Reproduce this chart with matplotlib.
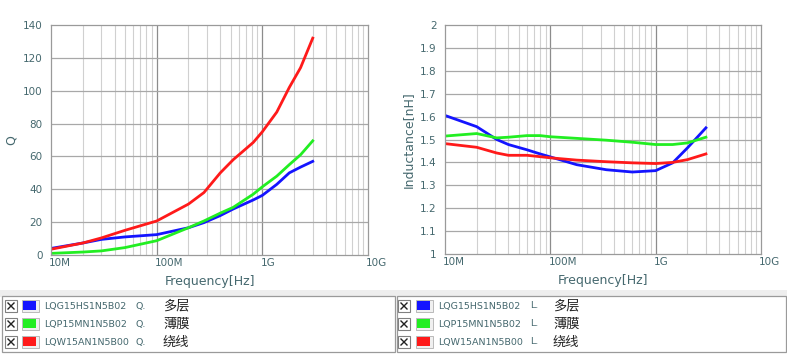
import numpy as np
import matplotlib
matplotlib.use('Agg')
import matplotlib.pyplot as plt
import matplotlib.transforms as mtrans
from matplotlib.patches import Rectangle
from matplotlib.lines import Line2D

plt.rcParams['font.family'] = ['DejaVu Sans', 'Noto Sans CJK SC']

# frequencies in Hz
freq_q = [1e7, 2e7, 3e7, 5e7, 1e8, 2e8, 2.8e8, 4e8, 5.3e8, 8.2e8, 1e9, 1.37e9, 1.8e9, 2.3e9, 3e9]
q_multi = [4.0, 7.3, 9.5, 11.0, 12.4, 16.6, 19.7, 24.0, 28.0, 33.5, 36.3, 43.0, 50.0, 53.5, 57.0]
q_film = [1.0, 1.8, 2.5, 4.5, 8.7, 16.6, 20.7, 25.5, 29.0, 37.0, 41.5, 48.0, 55.0, 61.0, 69.5]
q_wire = [3.5, 7.3, 10.4, 15.0, 20.7, 31.0, 38.0, 50.0, 58.0, 68.5, 75.0, 87.0, 102.0, 114.0, 132.0]

freq_l = [1e7, 2e7, 3.1e7, 4e7, 6e7, 8e7, 1e8, 1.78e8, 3.4e8, 6e8, 1e9, 1.45e9, 2e9, 3e9]
l_multi = [1.605, 1.556, 1.50, 1.478, 1.455, 1.437, 1.424, 1.39, 1.368, 1.358, 1.364, 1.398, 1.463, 1.551]
l_film = [1.515, 1.526, 1.507, 1.51, 1.517, 1.517, 1.512, 1.505, 1.497, 1.488, 1.478, 1.478, 1.485, 1.51]
l_wire = [1.482, 1.466, 1.441, 1.431, 1.431, 1.425, 1.42, 1.41, 1.403, 1.398, 1.395, 1.40, 1.412, 1.437]

parts = ['LQG15HS1N5B02', 'LQP15MN1N5B02', 'LQW15AN1N5B00']
kinds = ['多层', '薄膜', '绕线']
colors = ['#1414ff', '#22ee22', '#ff1a1a']

W, H = 787, 355
txt_col = '#45686e'


def fx(x):
    return x / W


def fy(y):
    return 1 - y / H


def style_axes(ax, ymin, ymax, ystep, ylabel, yfmt):
    ax.set_xscale('log')
    ax.set_xlim(1e7, 1e10)
    ax.set_ylim(ymin, ymax)
    for d in [1e7, 1e8, 1e9]:
        for m in range(2, 10):
            ax.axvline(d * m, color='#d0d0d0', lw=0.8, zorder=0)
    for d in [1e8, 1e9]:
        ax.axvline(d, color='#8c8c8c', lw=0.9, zorder=0)
    yt = np.arange(ymin, ymax + ystep / 2, ystep)
    for v in yt[1:-1]:
        ax.axhline(v, color='#a8a8a8', lw=0.9, zorder=0)
    ax.set_yticks(yt)
    ax.set_yticklabels([yfmt(v) for v in yt])
    ax.set_xticks([1e7, 1e8, 1e9, 1e10])
    ax.set_xticklabels(['10M', '100M', '1G', '10G'], ha='left')
    ax.xaxis.set_minor_locator(matplotlib.ticker.NullLocator())
    ax.tick_params(length=0, labelsize=7.5, colors=txt_col)
    ax.tick_params(axis='x', pad=2)
    ax.tick_params(axis='y', pad=6)
    shift = mtrans.ScaledTranslation(-2 / 100, 0, fig.dpi_scale_trans)
    for lab in ax.get_xticklabels():
        lab.set_transform(lab.get_transform() + shift)
    ax.set_xlabel('Frequency[Hz]', fontsize=9, color=txt_col, labelpad=5)
    ax.set_ylabel(ylabel, fontsize=9, color=txt_col, labelpad=4)
    for s in ax.spines.values():
        s.set_color('#9a9a9a')
        s.set_linewidth(0.9)


fig = plt.figure(figsize=(W / 100, H / 100), dpi=100)

ax1 = fig.add_axes([fx(51), fy(255), fx(368) - fx(51), fy(25) - fy(255)])
style_axes(ax1, 0, 140, 20, 'Q', lambda v: '%d' % v)
for ys, c in zip([q_multi, q_film, q_wire], colors):
    ax1.plot(freq_q, ys, color=c, lw=2)

ax2 = fig.add_axes([fx(445), fy(254), fx(761) - fx(445), fy(25) - fy(254)])
style_axes(ax2, 1.0, 2.0, 0.1, 'Inductance[nH]',
           lambda v: '%d' % round(v) if abs(v - round(v)) < 1e-6 else '%.1f' % v)
for ys, c in zip([l_multi, l_film, l_wire], colors):
    ax2.plot(freq_l, ys, color=c, lw=2)

# legend panel
fig.add_artist(Rectangle((0, fy(297)), 1, fy(290) - fy(297), transform=fig.transFigure,
                         facecolor='#eeeeee', edgecolor='none'))
for x0, x1 in [(2, 395), (397, 786)]:
    fig.add_artist(Rectangle((fx(x0), fy(352)), fx(x1) - fx(x0), fy(296) - fy(352),
                             transform=fig.transFigure, facecolor='white',
                             edgecolor='#9a9a9a', lw=0.9))

rows = [306, 324, 342]
for cb, sw, tx, suffix_x, cn_x, suffix in [(5, 22, 44, 135, 163, 'Q.'),
                                           (398, 416, 438, 530, 553, 'L.')]:
    for i, y in enumerate(rows):
        # check box with a cross
        fig.add_artist(Rectangle((fx(cb), fy(y + 6)), fx(12), 12 / H, transform=fig.transFigure,
                                 facecolor='white', edgecolor='#808080', lw=0.8))
        fig.add_artist(Line2D([fx(cb + 3), fx(cb + 9)], [fy(y + 3), fy(y - 3)],
                              transform=fig.transFigure, color='#222222', lw=1))
        fig.add_artist(Line2D([fx(cb + 3), fx(cb + 9)], [fy(y - 3), fy(y + 3)],
                              transform=fig.transFigure, color='#222222', lw=1))
        # colour swatch
        fig.add_artist(Rectangle((fx(sw), fy(y + 6)), fx(17), 12 / H, transform=fig.transFigure,
                                 facecolor='#f0f0f0', edgecolor='#b0b0b0', lw=0.6))
        fig.add_artist(Rectangle((fx(sw + 1), fy(y + 4)), fx(13), 9 / H, transform=fig.transFigure,
                                 facecolor=colors[i], edgecolor='none'))
        fig.text(fx(tx), fy(y), parts[i], fontsize=6.8, color=txt_col, va='center')
        fig.text(fx(suffix_x), fy(y), suffix, fontsize=6.8, color=txt_col, va='center')
        fig.text(fx(cn_x), fy(y), kinds[i], fontsize=9.5, color='#222222', va='center',
                 family=['Noto Sans CJK SC', 'DejaVu Sans'])

fig.savefig('out.png', dpi=100)
